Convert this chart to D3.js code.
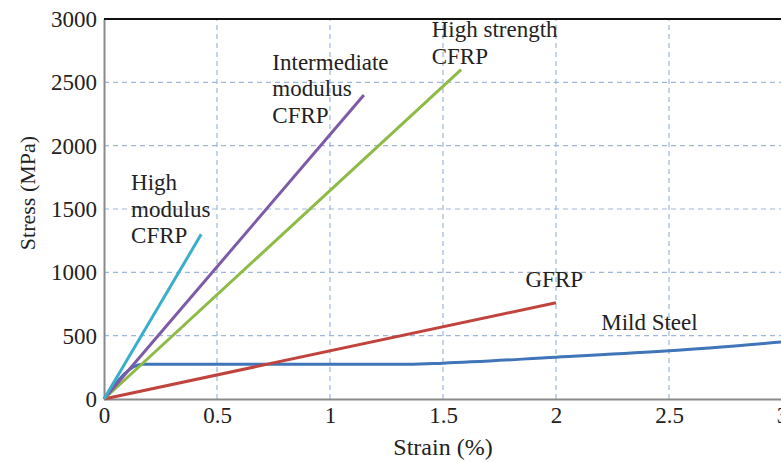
<!DOCTYPE html>
<html>
<head>
<meta charset="utf-8">
<script src="https://cdn.jsdelivr.net/npm/d3@7"></script>
<style>
  html, body { margin: 0; padding: 0; background: #fff; }
  svg text { font-family: "Liberation Serif", "Times New Roman", Tinos, "DejaVu Serif", serif; fill: #222; }
</style>
</head>
<body>
<div id="chart"></div>
<script>
const xTicks = [0, 0.5, 1, 1.5, 2, 2.5, 3];
const yTicks = [0, 500, 1000, 1500, 2000, 2500, 3000];

const seriesNames = ["High modulus CFRP", "Intermediate modulus CFRP", "High strength CFRP", "GFRP", "Mild Steel"];

// [strain %, stress MPa]
const highModulus = [[0, 0], [0.43, 1300]];
const intermediateModulus = [[0, 0], [1.15, 2400]];
const highStrength = [[0, 0], [1.58, 2600]];
const gfrp = [[0, 0], [2.0, 760]];
const mildSteel = [[0, 0], [0.17, 275], [1.35, 275], [1.5, 283], [2.0, 330], [2.5, 380], [3.0, 450]];

const seriesColors = ["#3aaecb", "#7d5ba6", "#8dbb45", "#c0443d", "#4175b9"];

const labelLines = [
  ["High", "modulus", "CFRP"],
  ["Intermediate", "modulus", "CFRP"],
  ["High strength", "CFRP"],
  ["GFRP"],
  ["Mild Steel"],
];
// label anchor in data units (strain, stress)
const labelAnchors = [[0.12, 1650], [0.745, 2600], [1.45, 2855], [1.865, 885], [2.2, 545]];

const FONT = "'Liberation Serif', 'Times New Roman', Tinos, 'DejaVu Serif', serif";

const width = 781, height = 462;
const margin = { top: 19, right: -1, bottom: 63, left: 104 };

const svg = d3.select("#chart").append("svg")
  .attr("width", width)
  .attr("height", height)
  .attr("font-family", FONT);

const x = d3.scaleLinear().domain([0, 3]).range([margin.left, width - margin.right]);
const y = d3.scaleLinear().domain([0, 3000]).range([height - margin.bottom, margin.top]);

// grid
const grid = svg.append("g");
grid.selectAll("line.v")
  .data(xTicks.filter((d) => d > 0 && d < 3))
  .join("line")
  .attr("x1", (d) => x(d)).attr("x2", (d) => x(d))
  .attr("y1", y(0)).attr("y2", y(3000))
  .attr("stroke", "#9fb7dc")
  .attr("stroke-width", 1.2)
  .attr("stroke-dasharray", "5,4");
grid.selectAll("line.h")
  .data(yTicks.filter((d) => d > 0 && d < 3000))
  .join("line")
  .attr("x1", x(0)).attr("x2", x(3))
  .attr("y1", (d) => y(d)).attr("y2", (d) => y(d))
  .attr("stroke", "#9fb7dc")
  .attr("stroke-width", 1.2)
  .attr("stroke-dasharray", "5,4");

// axes
const xAxis = svg.append("g")
  .attr("transform", `translate(0,${y(0)})`)
  .call(d3.axisBottom(x).tickValues(xTicks).tickSize(0).tickPadding(8).tickFormat(d3.format("")))
  .attr("font-family", FONT);
xAxis.select(".domain").attr("stroke", "#8a8a8a").attr("stroke-width", 2);
xAxis.selectAll("text").attr("font-size", 23).attr("fill", "#222");

const yAxis = svg.append("g")
  .attr("transform", `translate(${x(0)},0)`)
  .call(d3.axisLeft(y).tickValues(yTicks).tickSize(0).tickPadding(7).tickFormat(d3.format("")))
  .attr("font-family", FONT);
yAxis.select(".domain").attr("stroke", "#8a8a8a").attr("stroke-width", 2);
yAxis.selectAll("text").attr("font-size", 23).attr("fill", "#222");

// top border
svg.append("line")
  .attr("x1", x(0)).attr("x2", x(3))
  .attr("y1", y(3000)).attr("y2", y(3000))
  .attr("stroke", "#111")
  .attr("stroke-width", 2);

// series lines
const allSeries = [highModulus, intermediateModulus, highStrength, gfrp, mildSteel];
const line = d3.line().x((d) => x(d[0])).y((d) => y(d[1])).curve(d3.curveMonotoneX);

svg.append("g")
  .selectAll("path")
  .data(allSeries.map((values, i) => ({ name: seriesNames[i], values, color: seriesColors[i] })).reverse())
  .join("path")
  .attr("fill", "none")
  .attr("stroke", (d) => d.color)
  .attr("stroke-width", 3)
  .attr("stroke-linejoin", "round")
  .attr("d", (d) => line(d.values));

// labels
const labels = svg.append("g");
labelLines.forEach((lines, i) => {
  const t = labels.append("text")
    .attr("x", x(labelAnchors[i][0]))
    .attr("y", y(labelAnchors[i][1]))
    .attr("font-size", 23);
  lines.forEach((s, j) => {
    t.append("tspan")
      .attr("x", x(labelAnchors[i][0]))
      .attr("dy", j === 0 ? 0 : 26.5)
      .text(s);
  });
});

// axis titles
svg.append("text")
  .attr("x", (x(0) + x(3)) / 2)
  .attr("y", 455)
  .attr("text-anchor", "middle")
  .attr("font-size", 24)
  .text("Strain (%)");

svg.append("text")
  .attr("transform", `translate(35,193) rotate(-90)`)
  .attr("text-anchor", "middle")
  .attr("font-size", 22)
  .text("Stress (MPa)");
</script>
</body>
</html>
